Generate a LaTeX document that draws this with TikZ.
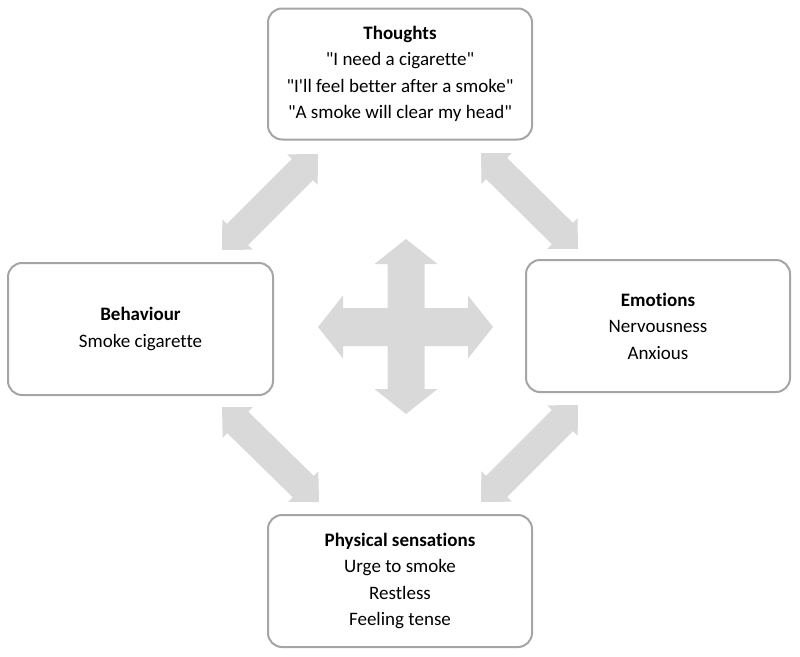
\documentclass[tikz,border=0pt]{standalone}
\usepackage{fontspec}
\setmainfont{Carlito}[Ligatures={TeXOff,NoCommon}]
\usetikzlibrary{calc}
\definecolor{boxline}{HTML}{A5A5A5}
\definecolor{arrowgray}{HTML}{D9D9D9}
\tikzset{
  infobox/.style={draw=boxline, line width=2pt, rounded corners=14pt, fill=white,
    minimum width=264pt, minimum height=131pt, align=center, inner sep=0pt,
    font=\fontsize{19}{26.5}\selectfont},
  arrowfill/.style={fill=arrowgray, draw=none}
}
\newcommand{\dblarrow}[2]{%
  \path ($(#1)!22pt!(#2)$) coordinate (da1) ($(#2)!22pt!(#1)$) coordinate (db1);
  \fill[arrowfill] (#1) -- ($(da1)!21.5pt!90:(#2)$) -- ($(da1)!15pt!90:(#2)$)
    -- ($(db1)!15pt!-90:(#1)$) -- ($(db1)!21.5pt!-90:(#1)$) -- (#2)
    -- ($(db1)!21.5pt!90:(#1)$) -- ($(db1)!15pt!90:(#1)$)
    -- ($(da1)!15pt!-90:(#2)$) -- ($(da1)!21.5pt!-90:(#2)$) -- cycle;}
\begin{document}
\begin{tikzpicture}[x=1pt,y=-1pt]
\useasboundingbox (0,0) rectangle (800,656);
% boxes
\node[infobox] (thoughts) at (400,74) {\textbf{Thoughts}\\"I need a cigarette"\\"I'll feel better after a smoke"\\"A smoke will clear my head"};
\node[infobox, minimum width=265pt, minimum height=132pt] (behaviour) at (140.5,329) {\textbf{Behaviour}\\Smoke cigarette};
\node[infobox, minimum height=132pt] (emotions) at (658,326) {\textbf{Emotions}\\Nervousness\\Anxious};
\node[infobox, minimum height=132pt] (physical) at (400,581) {\textbf{Physical sensations}\\Urge to smoke\\Restless\\Feeling tense};
% diagonal arrow ends
\coordinate (tlA) at (222,250); \coordinate (tlB) at (318,154);
\coordinate (trA) at (481,153); \coordinate (trB) at (578,249);
\coordinate (blA) at (222,407); \coordinate (blB) at (319,502);
\coordinate (brA) at (578,405); \coordinate (brB) at (481,502);
\dblarrow{tlA}{tlB}
\dblarrow{trA}{trB}
\dblarrow{blA}{blB}
\dblarrow{brA}{brB}
% centre cross
\fill[arrowfill] (406,239) -- (437.5,264) -- (424.5,264) -- (424.5,308) -- (468,308) -- (468,295.5)
  -- (493,327) -- (468,358.5) -- (468,346) -- (424.5,346) -- (424.5,389) -- (437.5,389)
  -- (406,414) -- (374.5,389) -- (387.5,389) -- (387.5,346) -- (343,346) -- (343,358.5)
  -- (318,327) -- (343,295.5) -- (343,308) -- (387.5,308) -- (387.5,264) -- (374.5,264) -- cycle;
\end{tikzpicture}
\end{document}
